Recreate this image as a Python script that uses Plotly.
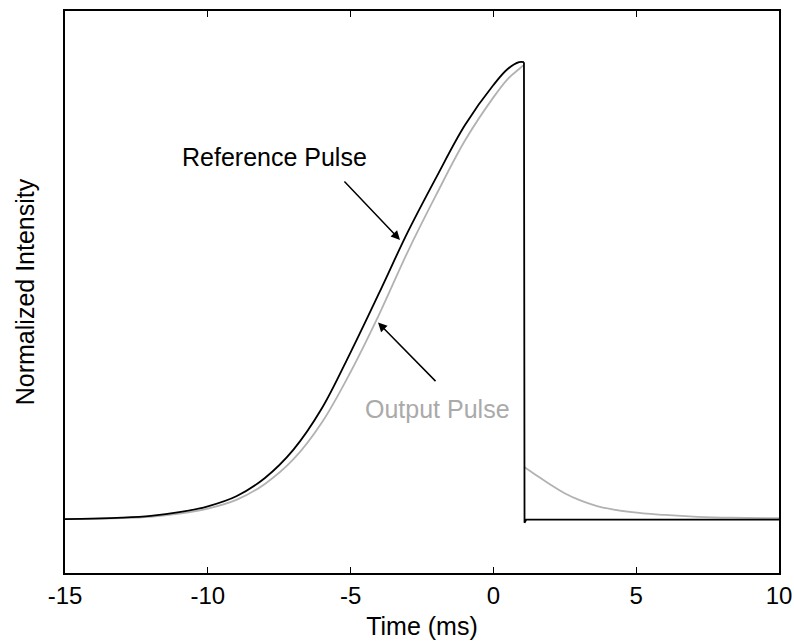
import plotly.graph_objects as go

# Reference pulse (black): rising edge, then sharp drop and flat baseline
ref_rise_t = [-15, -14, -13, -12, -11, -10, -9, -8, -7, -6, -5, -4, -3, -2, -1, 0, 0.5, 0.9, 1.07]
ref_rise_v = [0.000, 0.001, 0.003, 0.007, 0.015, 0.028, 0.050, 0.090, 0.152, 0.243, 0.365,
              0.495, 0.628, 0.748, 0.862, 0.950, 0.985, 1.000, 1.000]
ref_tail_t = [1.07, 1.09, 1.15, 1.4, 3.0, 6.0, 8.0, 10.0]
ref_tail_v = [1.000, -0.008, -0.001, -0.001, -0.001, -0.001, -0.001, -0.001]

# Output pulse (gray): delayed rise, then exponential-like tail after the drop
out_rise_t = [-15, -14, -13, -12, -11, -10, -9, -8, -7, -6, -5, -4, -3, -2, -1, 0, 0.5, 0.9, 1.04]
out_rise_v = [0.000, 0.001, 0.002, 0.005, 0.012, 0.023, 0.042, 0.077, 0.131, 0.212, 0.322,
              0.448, 0.585, 0.710, 0.828, 0.923, 0.963, 0.985, 0.993]
out_tail_t = [1.08, 1.5, 1.91, 2.51, 3.0, 3.66, 4.85, 6.0, 7.16, 8.35, 10.0]
out_tail_v = [0.114, 0.096, 0.079, 0.056, 0.042, 0.028, 0.015, 0.009, 0.005, 0.003, 0.002]

x_ticks = [-15, -10, -5, 0, 5, 10]
x_tick_text = ["-15", "-10", "-5", "0", "5", "10"]

BLACK = "#000000"
GRAY = "rgb(178,178,178)"
FONT = "Liberation Sans, Arial, sans-serif"

fig = go.Figure()
fig.add_trace(go.Scatter(x=out_rise_t, y=out_rise_v, mode="lines",
                         line=dict(color=GRAY, width=1.8, shape="spline", smoothing=1.0),
                         showlegend=False, hoverinfo="skip"))
fig.add_trace(go.Scatter(x=out_tail_t, y=out_tail_v, mode="lines",
                         line=dict(color=GRAY, width=1.8, shape="spline", smoothing=1.0),
                         showlegend=False, hoverinfo="skip"))
fig.add_trace(go.Scatter(x=ref_rise_t, y=ref_rise_v, mode="lines",
                         line=dict(color=BLACK, width=1.8, shape="spline", smoothing=1.0),
                         showlegend=False, hoverinfo="skip"))
fig.add_trace(go.Scatter(x=ref_tail_t, y=ref_tail_v, mode="lines",
                         line=dict(color=BLACK, width=1.8),
                         showlegend=False, hoverinfo="skip"))

# Labels
fig.add_annotation(x=-7.65, y=0.792, text="Reference Pulse", showarrow=False,
                   font=dict(family=FONT, size=25, color=BLACK))
fig.add_annotation(x=-1.97, y=0.241, text="Output Pulse", showarrow=False,
                   font=dict(family=FONT, size=25, color="rgb(170,170,170)"))
# Arrows
fig.add_annotation(x=-3.27, y=0.611, text="", showarrow=True, ax=-57, ay=-60,
                   arrowhead=2, arrowsize=1.2, arrowwidth=1.5, arrowcolor=BLACK, standoff=0)
fig.add_annotation(x=-4.04, y=0.43, text="", showarrow=True, ax=59, ay=60,
                   arrowhead=2, arrowsize=1.2, arrowwidth=1.5, arrowcolor=BLACK, standoff=0)

fig.update_layout(
    width=794, height=643,
    margin=dict(l=65, r=15, t=11, b=70),
    paper_bgcolor="white", plot_bgcolor="white",
    font=dict(family=FONT, color=BLACK),
    xaxis=dict(range=[-15, 10], tickvals=x_ticks, ticktext=x_tick_text,
               ticks="inside", ticklen=6, tickwidth=1, tickcolor=BLACK,
               showline=True, linecolor=BLACK, linewidth=1.5, mirror="ticks",
               showgrid=False, zeroline=False, automargin=False,
               tickfont=dict(size=24, family=FONT),
               title=dict(text="Time (ms)", font=dict(size=25, family=FONT), standoff=10)),
    yaxis=dict(range=[-0.118, 1.112], showticklabels=False, ticks="",
               showline=True, linecolor=BLACK, linewidth=1.5, mirror=True,
               showgrid=False, zeroline=False, automargin=False,
               title=dict(text="Normalized Intensity", font=dict(size=25, family=FONT), standoff=22)),
)

fig.write_html("out.html")
